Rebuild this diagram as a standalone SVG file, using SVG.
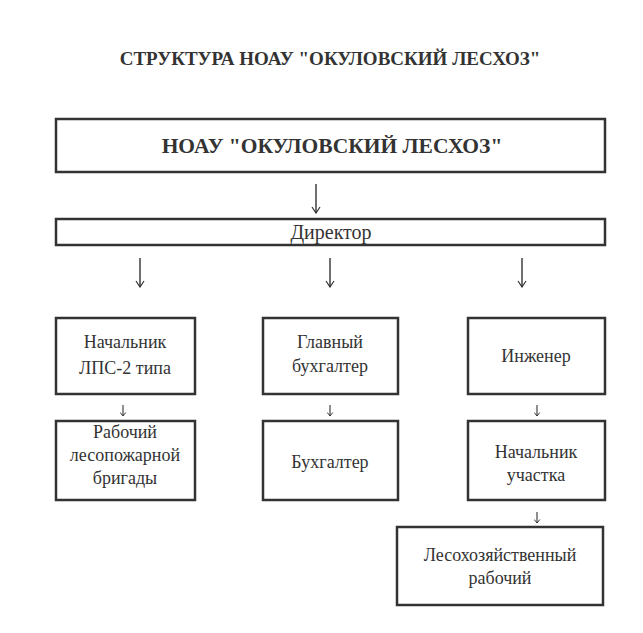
<svg xmlns="http://www.w3.org/2000/svg" width="643" height="633" viewBox="0 0 643 633">
<defs>
<marker id="ah" viewBox="0 0 10 10" refX="9" refY="5" markerWidth="10" markerHeight="10" markerUnits="userSpaceOnUse" orient="auto">
<path d="M3,1 L9,5 L3,9" fill="none" stroke="#333" stroke-width="1.2"/>
</marker>
<marker id="ahs" viewBox="0 0 10 10" refX="9" refY="5" markerWidth="7" markerHeight="7" markerUnits="userSpaceOnUse" orient="auto">
<path d="M4,1 L9,5 L4,9" fill="none" stroke="#333" stroke-width="1.4"/>
</marker>
</defs>
<style>
.box{fill:#fff;stroke:#333;stroke-width:2.5}
.t{font-family:'Liberation Serif','Times New Roman','DejaVu Serif',serif;font-size:18px;fill:#333;text-anchor:middle}
.b{font-weight:bold}
.ttl{font-size:19px}
.big{font-size:21.5px}
.dir{font-size:20px}
.c{stroke:#333;stroke-width:1.4;fill:none;marker-end:url(#ah)}
.cs{stroke:#333;stroke-width:1.1;fill:none;marker-end:url(#ahs)}
</style>
<rect width="643" height="633" fill="#fff"/>
<text class="t b ttl" x="330" y="65">СТРУКТУРА НОАУ "ОКУЛОВСКИЙ ЛЕСХОЗ"</text>

<g id="connectors">
<line class="c" x1="316" y1="184" x2="316" y2="213"/>
<line class="c" x1="140" y1="258" x2="140" y2="287"/>
<line class="c" x1="330" y1="258" x2="330" y2="287"/>
<line class="c" x1="522" y1="258" x2="522" y2="287"/>
<line class="cs" x1="123" y1="405" x2="123" y2="416"/>
<line class="cs" x1="330" y1="405" x2="330" y2="416"/>
<line class="cs" x1="537" y1="405" x2="537" y2="416"/>
<line class="cs" x1="537" y1="512" x2="537" y2="523"/>
</g>

<g id="n-hoau">
<rect class="box" x="56" y="119" width="549" height="53"/>
<text class="t b big" x="332" y="153">НОАУ "ОКУЛОВСКИЙ ЛЕСХОЗ"</text>
</g>
<g id="n-director">
<rect class="box" x="56" y="219" width="549" height="26"/>
<text class="t dir" x="331" y="239">Директор</text>
</g>
<g id="n-lps">
<rect class="box" x="56" y="318" width="139" height="76"/>
<text class="t" x="125" y="348">Начальник</text>
<text class="t" x="125" y="374">ЛПС-2 типа</text>
</g>
<g id="n-glbuh">
<rect class="box" x="263" y="318" width="135" height="76"/>
<text class="t" x="330" y="348">Главный</text>
<text class="t" x="330" y="372">бухгалтер</text>
</g>
<g id="n-eng">
<rect class="box" x="468" y="318" width="137" height="76"/>
<text class="t" x="536" y="362">Инженер</text>
</g>
<g id="n-rab">
<rect class="box" x="56" y="421" width="139" height="79"/>
<text class="t" x="125" y="438">Рабочий</text>
<text class="t" x="125" y="461">лесопожарной</text>
<text class="t" x="125" y="484">бригады</text>
</g>
<g id="n-buh">
<rect class="box" x="263" y="421" width="135" height="79"/>
<text class="t" x="330" y="468">Бухгалтер</text>
</g>
<g id="n-nach">
<rect class="box" x="468" y="421" width="137" height="79"/>
<text class="t" x="536" y="458">Начальник</text>
<text class="t" x="536" y="481">участка</text>
</g>
<g id="n-les">
<rect class="box" x="397" y="527" width="206" height="78"/>
<text class="t" x="500" y="561">Лесохозяйственный</text>
<text class="t" x="500" y="584">рабочий</text>
</g>
</svg>
